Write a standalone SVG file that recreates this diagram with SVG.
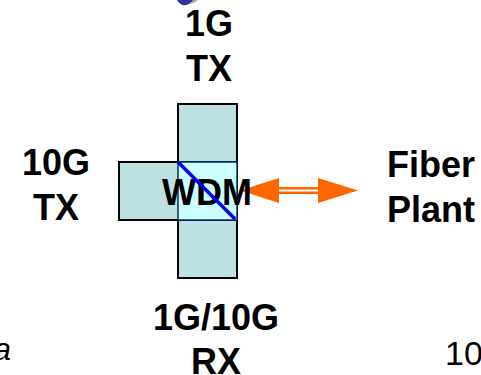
<svg xmlns="http://www.w3.org/2000/svg" width="481" height="375" viewBox="0 0 481 375">
<style>
.lbl{font-family:"Liberation Sans",Arial,sans-serif;font-weight:bold;font-size:36px;fill:#000;text-anchor:middle}
.box{fill:#bde0e3;stroke:#000;stroke-width:2}
.core{fill:#ccffff;stroke:#003366;stroke-width:1.5}
.head{fill:#ff6600}
</style>
<rect width="481" height="375" fill="#fff"/>
<g id="logo">
<path d="M177,0 Q183,10 193,1 L193,0 Z" fill="#3333a0"/>
<path d="M190,4 Q195,3 198,0 L193,0 Q192,2 190,4 Z" fill="#b0b0b0"/>
</g>
<g id="tx1g">
<rect class="box" x="178" y="104" width="59" height="174"/>
<text class="lbl" x="209" y="36">1G</text>
<text class="lbl" x="209" y="81">TX</text>
</g>
<g id="tx10g">
<rect class="box" x="119" y="162" width="118" height="58"/>
<text class="lbl" x="56" y="175">10G</text>
<text class="lbl" x="56" y="220">TX</text>
</g>
<g id="rx">
<text class="lbl" x="216" y="330">1G/10G</text>
<text class="lbl" x="216" y="374">RX</text>
</g>
<g id="connectors">
<line x1="276" y1="190.5" x2="321" y2="190.5" stroke="#ff6600" stroke-width="7"/>
<line x1="276" y1="190.5" x2="321" y2="190.5" stroke="#fff" stroke-width="2.2"/>
<polygon class="head" points="240,190.5 279,178 279,203"/>
<polygon class="head" points="358,190.5 318,178 318,203"/>
</g>
<g id="wdm">
<rect class="core" x="178" y="162" width="59" height="58"/>
<text class="lbl" x="207" y="205">WDM</text>
<line x1="178" y1="162" x2="235" y2="219" stroke="#0000ee" stroke-width="3.5"/>
</g>
<g id="fiber">
<text class="lbl" x="387" y="177" style="text-anchor:start">Fiber</text>
<text class="lbl" x="387" y="222" style="text-anchor:start">Plant</text>
</g>
<text x="11" y="360" style="font-family:'Liberation Sans',Arial,sans-serif;font-style:italic;font-size:32px;text-anchor:end">a</text>
<text x="445" y="365" style="font-family:'Liberation Sans',Arial,sans-serif;font-size:34px">10</text>
</svg>
